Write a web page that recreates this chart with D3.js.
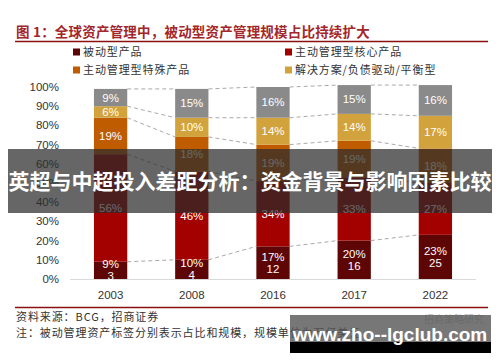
<!DOCTYPE html>
<html>
<head>
<meta charset="utf-8">
<script src="https://cdn.jsdelivr.net/npm/d3@7"></script>
<style>
  body { margin: 0; background: #fff; }
  svg { display: block; }
  text { font-family: "Liberation Sans", Arial, sans-serif; }
  .cjk { font-family: "Noto Sans CJK SC", sans-serif; }
</style>
</head>
<body>
<svg width="500" height="362"></svg>
<script>
// data, bottom to top
const years = ["2003", "2008", "2016", "2017", "2022"];
const passive = [9, 10, 17, 20, 23];
const activeCore = [56, 46, 34, 33, 27];
const activeSpecial = [19, 18, 19, 19, 18];
const solutions = [6, 10, 14, 14, 17];
const alternatives = [9, 15, 16, 15, 16];
const passiveScale = [3, 4, 12, 16, 25];
const seriesNames = ["被动型产品", "主动管理型核心产品", "主动管理型特殊产品", "解决方案/负债驱动/平衡型", "另类"];
const seriesColors = ["#5e0505", "#a30000", "#bf5c00", "#d2a23c", "#8a8a8a"];
const yTicks = [0, 0.1, 0.2, 0.3, 0.4, 0.5, 0.6, 0.7, 0.8, 0.9, 1];

let svg = d3.select("svg");

let rows = years.map((y, i) => ({
    year: y,
    s0: passive[i], s1: activeCore[i], s2: activeSpecial[i], s3: solutions[i], s4: alternatives[i]
}));
let keys = ["s0", "s1", "s2", "s3", "s4"];
let stacked = d3.stack().keys(keys)(rows);

let x = d3.scaleBand().domain(years).range([70, 476]).paddingInner(0.59).paddingOuter(0.295);
let y = d3.scaleLinear().domain([0, 100]).range([279, 87]);

// title
svg.append("text").attr("class", "cjk")
    .attr("x", 16).attr("y", 37)
    .attr("fill", "#a3262a").attr("font-size", 13.5).attr("font-weight", "bold")
    .attr("letter-spacing", 0.2)
    .text("图 1：全球资产管理中，被动型资产管理规模占比持续扩大");
svg.append("line").attr("x1", 15).attr("x2", 488).attr("y1", 41.5).attr("y2", 41.5)
    .attr("stroke", "#8b1010").attr("stroke-width", 1.5);

// legend (4 items, gray not listed)
let legendPos = [[73, 52], [285, 52], [73, 70], [285, 70]];
legendPos.forEach((p, i) => {
    let g = svg.append("g").attr("transform", `translate(${p[0]},${p[1]})`);
    g.append("rect").attr("x", 0).attr("y", -3.5).attr("width", 7).attr("height", 7).attr("fill", seriesColors[i]);
    g.append("text").attr("class", "cjk").attr("x", 10).attr("y", 4)
        .attr("font-size", 11).attr("letter-spacing", 0.9).attr("fill", "#333").text(seriesNames[i]);
});

// y tick labels
svg.append("g").selectAll("text")
    .data(yTicks)
    .join("text")
    .attr("x", 59).attr("y", d => y(d * 100) + 4)
    .attr("text-anchor", "end").attr("font-size", 11.5).attr("fill", "#333")
    .text(d3.format(".0%"));

// dashed connectors between bar boundaries
let levels = [];
stacked.forEach(s => s.forEach((d, i) => { if (i < years.length - 1) levels.push([d[1], s[i + 1][1], i]); }));
svg.append("g").selectAll("line")
    .data(levels)
    .join("line")
    .attr("x1", d => x(years[d[2]]) + x.bandwidth())
    .attr("x2", d => x(years[d[2] + 1]))
    .attr("y1", d => y(d[0]))
    .attr("y2", d => y(d[1]))
    .attr("stroke", "#aaa").attr("stroke-width", 1).attr("stroke-dasharray", "4,3");

// x baseline
svg.append("line").attr("x1", 70).attr("x2", 476).attr("y1", 279.5).attr("y2", 279.5)
    .attr("stroke", "#d9d9d9").attr("stroke-width", 1);

// bars
svg.append("g").selectAll("g")
    .data(stacked)
    .join("g")
    .attr("fill", (d, i) => seriesColors[i])
    .selectAll("rect")
    .data(d => d)
    .join("rect")
    .attr("x", d => x(d.data.year))
    .attr("y", d => y(d[1]))
    .attr("width", x.bandwidth())
    .attr("height", d => y(d[0]) - y(d[1]));

// segment labels
let labels = svg.append("g").attr("fill", "#fff").attr("font-size", 11.5).attr("text-anchor", "middle");
stacked.forEach((s, k) => {
    s.forEach((d, i) => {
        let cx = x(d.data.year) + x.bandwidth() / 2;
        let cy = (y(d[0]) + y(d[1])) / 2;
        let v = d[1] - d[0];
        if (k === 0) {
            labels.append("text").attr("x", cx).attr("y", cy - 2).text(v + "%");
            labels.append("text").attr("x", cx).attr("y", cy + 10).text(passiveScale[i]);
        } else {
            labels.append("text").attr("x", cx).attr("y", cy + 4).text(v + "%");
        }
    });
});

// x labels
svg.append("g").selectAll("text")
    .data(years)
    .join("text")
    .attr("x", d => x(d) + x.bandwidth() / 2).attr("y", 299)
    .attr("text-anchor", "middle").attr("font-size", 11.5).attr("fill", "#333")
    .text(d => d);

// footer
svg.append("line").attr("x1", 15).attr("x2", 488).attr("y1", 307.5).attr("y2", 307.5)
    .attr("stroke", "#8b1010").attr("stroke-width", 1.5);
svg.append("text").attr("class", "cjk").attr("x", 16).attr("y", 321)
    .attr("font-size", 11).attr("letter-spacing", 0.9).attr("fill", "#333").text("资料来源：BCG，招商证券");
svg.append("text").attr("class", "cjk").attr("x", 16).attr("y", 337)
    .attr("font-size", 11).attr("letter-spacing", 0.9).attr("fill", "#333").text("注：被动管理资产标签分别表示占比和规模，规模单位为万亿美元");
svg.append("text").attr("class", "cjk").attr("x", 484).attr("y", 323)
    .attr("text-anchor", "end").attr("font-size", 10).attr("fill", "#bbb").text("招商策略研究");

// overlay banner
svg.append("rect").attr("x", 8).attr("y", 149).attr("width", 484).attr("height", 64)
    .attr("fill", "#2b2b2b").attr("fill-opacity", 0.72);
svg.append("text").attr("class", "cjk").attr("x", 250).attr("y", 189)
    .attr("text-anchor", "middle").attr("font-size", 21).attr("font-weight", "bold")
    .attr("fill", "#fff").text("英超与中超投入差距分析：资金背景与影响因素比较");

// url watermark box
svg.append("rect").attr("x", 290).attr("y", 315).attr("width", 201).attr("height", 27)
    .attr("fill", "#555").attr("fill-opacity", 0.8);
svg.append("rect").attr("x", 290).attr("y", 342).attr("width", 201).attr("height", 11)
    .attr("fill", "#000");
svg.append("text").attr("x", 390).attr("y", 341)
    .attr("text-anchor", "middle").attr("font-size", 19).attr("font-weight", "bold")
    .attr("fill", "#fff").text("www.zho--lgclub.com");
</script>
</body>
</html>
